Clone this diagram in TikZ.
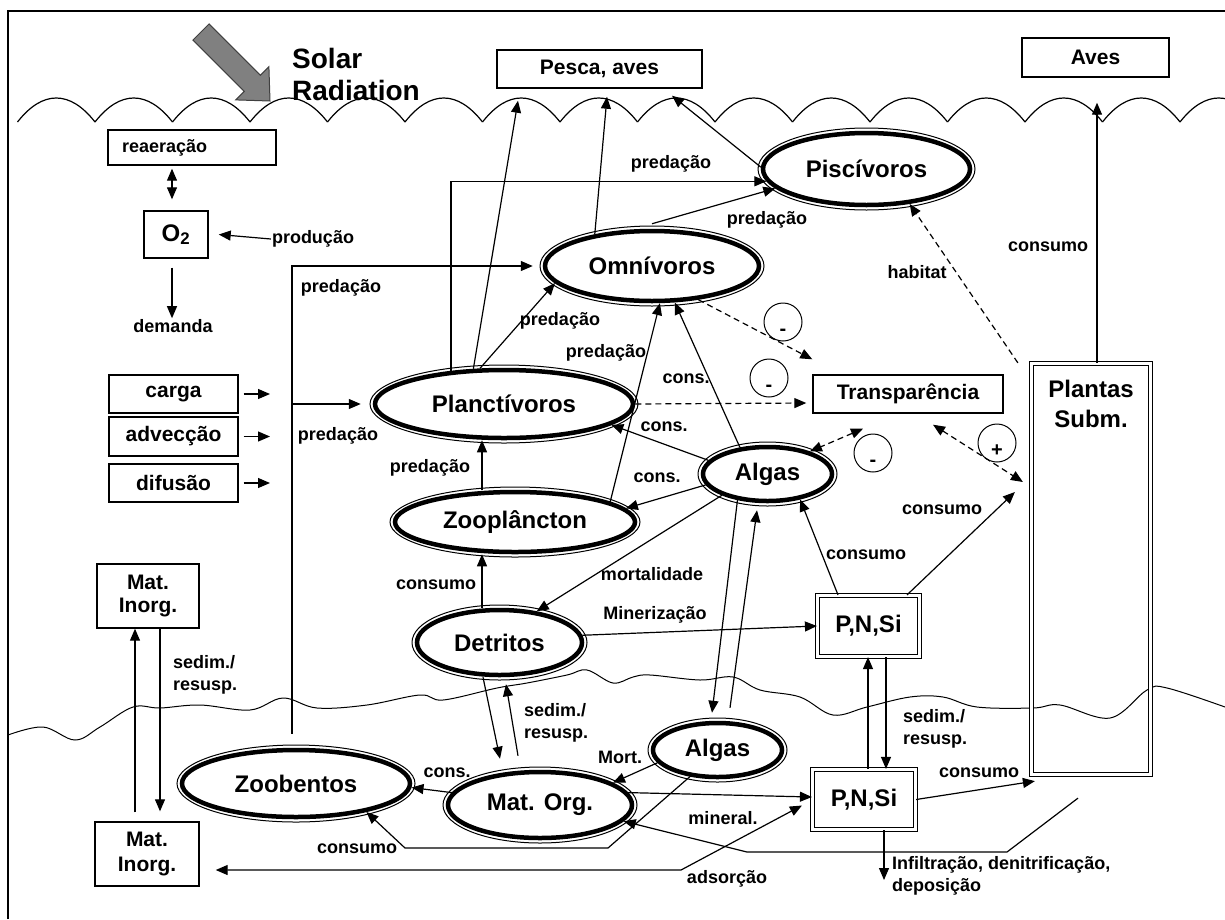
\documentclass[tikz,border=0pt]{standalone}
\usepackage{fontspec}
\setmainfont{Liberation Sans}
\usetikzlibrary{shapes.geometric,arrows.meta,calc}
\tikzset{
  lab/.style={font=\fontsize{18}{22}\selectfont\bfseries, inner sep=1pt},
  boxn/.style={draw, line width=1.4pt, font=\fontsize{21}{24}\selectfont\bfseries, inner sep=0pt},
  dbox/.style={draw, line width=1.2pt, double, double distance=2.4pt, font=\fontsize{24}{29}\selectfont\bfseries, inner sep=0pt},
  ell/.style={ellipse, draw, line width=4.5pt, fill=white, font=\fontsize{24}{28}\selectfont\bfseries, inner sep=0pt},
  outerell/.style={line width=1pt, fill=white},
  arr/.style={-{Triangle[length=12pt,width=10pt]}, line width=1.2pt},
  arrtwo/.style={{Triangle[length=12pt,width=10pt]}-{Triangle[length=12pt,width=10pt]}, line width=1.2pt},
  dashy/.style={dash pattern=on 6pt off 4pt},
  sign/.style={circle, draw, line width=1pt, minimum size=38pt, inner sep=0pt, text height=26pt, text depth=0pt, font=\fontsize{20}{20}\selectfont\bfseries},
  wave/.style={line width=1.2pt},
}
\newcommand\ecoNode[6]{%
  \draw[outerell] (#2,#3) ellipse [x radius=#4pt, y radius=#5pt];
  \node[ell, minimum width={2*#4pt-10pt}, minimum height={2*#5pt-10pt}] (#1) at (#2,#3) {#6};}
\begin{document}
\begin{tikzpicture}[x=1pt,y=-1pt]
\useasboundingbox (0,0) rectangle (1225,919);
% frame
\draw[line width=1.5pt] (8,919) -- (8,11) -- (1225,11);
% water surface
\foreach \k in {0,...,15} {
  \pgfmathsetmacro\xa{17.5+77.5*\k}
  \draw[wave] (\xa,122) .. controls (\xa+25,90) and (\xa+52.5,90) .. (\xa+77.5,122);
}
% sediment surface
\draw[wave, line width=1pt] plot[smooth, tension=0.6] coordinates {(8,735) (43,727) (75,740) (100,727) (133,707) (160,708) (200,705) (250,710) (283,698) (317,708) (367,705) (420,695) (443,700) (497,688) (527,683) (567,675) (587,670) (613,683) (633,677) (650,675) (700,680) (733,677) (760,690) (800,697) (833,715) (867,707) (910,697) (943,697) (977,707) (1033,708) (1060,705) (1110,718) (1147,690) (1167,688) (1225,707)};
% solar arrow
\draw[line width=1pt, draw=black!75, fill=black!50] (209.1,23.9) -- (260.4,75.2) -- (268.9,66.7) -- (270,101) -- (235.7,99.9) -- (244.2,91.4) -- (192.9,40.1) -- cycle;
\node[font=\fontsize{28}{32}\selectfont\bfseries, align=left, anchor=north west, inner sep=0pt] (solar) at (292,48) {Solar\\Radiation};

% boxes
\node[boxn, minimum width=205pt, minimum height=38pt] (pesca) at (599.5,69) {Pesca, aves};
\node[boxn, minimum width=147pt, minimum height=39pt] (aves) at (1095.5,57.5) {Aves};
\node[boxn, font=\fontsize{18}{22}\selectfont\bfseries, minimum height=35pt, text width=140pt, inner xsep=14pt, align=left] (reaer) at (192,147.5) {reaeração};
\node[boxn, font=\fontsize{24}{28}\selectfont\bfseries, minimum width=64pt, minimum height=47pt] (o2) at (176,234.5) {O\textsubscript{2}};
\node[lab] (prod) at (313,239) {produção};
\node[lab] (dem) at (173,326) {demanda};
\node[boxn, minimum width=129pt, minimum height=38pt] (carga) at (173.5,394) {carga};
\node[boxn, minimum width=129pt, minimum height=39pt] (adv) at (173.5,436.5) {advecção};
\node[boxn, minimum width=129pt, minimum height=38pt] (dif) at (173.5,483) {difusão};
\node[boxn, minimum width=102pt, minimum height=64pt, align=center, font=\fontsize{21}{23}\selectfont\bfseries] (mi1) at (148,596) {Mat.\\Inorg.};
\node[boxn, minimum width=104pt, minimum height=64pt, align=center, font=\fontsize{21}{25}\selectfont\bfseries] (mi2) at (147,854) {Mat.\\Inorg.};
\node[boxn, minimum width=190pt, minimum height=38pt] (transp) at (908,394) {Transparência};
\node[dbox, minimum width=102pt, minimum height=61pt] (pns1) at (868.5,626) {P,N,Si};
\node[dbox, minimum width=103pt, minimum height=60pt] (pns2) at (864,799.5) {P,N,Si};
\node[dbox, minimum width=119pt, minimum height=411pt, label={[font=\fontsize{24}{30}\selectfont\bfseries, align=center, anchor=north, inner sep=0pt, yshift=-17pt]north:Plantas\\Subm.}] (plant) at (1091,569) {};

% ellipses
\ecoNode{pisc}{866.5}{169}{108.5}{41}{Piscívoros}
\ecoNode{omni}{652}{266}{112}{40}{Omnívoros}
\ecoNode{planc}{504}{404}{134}{39}{Planctívoros}
\ecoNode{zoo}{515}{522}{125}{35}{Zooplâncton}
\ecoNode{alg1}{767.5}{474}{69.5}{32}{Algas}
\ecoNode{detr}{499.5}{642.5}{87.5}{37.5}{Detritos}
\ecoNode{morg}{540}{805}{97}{38}{Mat. Org.}
\ecoNode{alg2}{717.5}{750}{69.5}{32}{Algas}
\ecoNode{zoob}{296}{783.5}{119}{38.5}{Zoobentos}

% oxygen
\draw[arrtwo] ([xshift=-20pt,yshift=-3pt]reaer.south) -- ([xshift=-4pt,yshift=11pt]o2.north);
\draw[arr] (prod.west) -- ([xshift=10pt]o2.east);
\draw[arr] ([xshift=-4pt,yshift=-9pt]o2.south) -- ([xshift=-1pt]dem.north);

% loads
\coordinate (ca) at (270,394);
\coordinate (cb) at (270,436.5);
\coordinate (cc) at (270,483);
\draw[arr] ([xshift=5pt]carga.east) -- (ca);
\draw[arr] ([xshift=5pt]adv.east) -- (cb);
\draw[arr] ([xshift=5pt]dif.east) -- (cc);

% inorganic matter
\draw[arr] ([xshift=-12pt,yshift=9pt]mi2.north) -- ([xshift=-13pt]mi1.south);
\draw[arr] ([xshift=12pt]mi1.south) -- ([xshift=13pt,yshift=10pt]mi2.north);
\node[lab, align=left, anchor=west] (lsed1) at (172,674.5) {sedim./\\resusp.};

% zoobentos predation
\coordinate (zbtop) at ([xshift=-4pt,yshift=14pt]zoob.north);
\draw[arr] (zbtop) |- ([xshift=-10pt]omni.west);
\draw[arr] (zbtop |- planc.west) -- ([xshift=-12pt]planc.west);
\node[lab] (lp1) at (341,288) {predação};
\node[lab] (lp2) at (338,436) {predação};

% to pesca, aves
\draw[arr] (planc.131) -- ([xshift=-81.5pt,yshift=-12pt]pesca.south);
\draw[arr] (omni.151) -- ([xshift=7.5pt,yshift=-8pt]pesca.south);
\draw[arr] (pisc.179) -- ([xshift=72.5pt,yshift=-7pt]pesca.south);

% predation
\draw[arr] (planc.148) |- (pisc.187);
\node[lab] (lp3) at (671,164) {predação};
\draw[arr] ([yshift=5pt]omni.north) -- (pisc.192);
\node[lab] (lp4) at (767,220) {predação};
\draw[arr] (planc.124) -- (omni.190);
\node[lab] (lp5) at (560,321) {predação};
\draw[arr] (zoo.12) -- (omni.282);
\node[lab] (lp6) at (606,353) {predação};
\draw[arr] ([xshift=-33pt]zoo.north) -- ([xshift=-22pt]planc.south);
\node[lab] (lp7) at (430,468) {predação};
\draw[arr] ([xshift=-17.5pt]detr.north) -- ([xshift=-33pt]zoo.south);
\node[lab] (lc1) at (436,585) {consumo};

% algae consumption
\draw[arr] (alg1.136) -- (omni.302);
\node[lab] (lk1) at (686,379) {cons.};
\draw[arr] (alg1.167) -- (planc.349);
\node[lab] (lk2) at (664,427) {cons.};
\draw[arr] (alg1.190) -- (zoo.7);
\node[lab] (lk3) at (657,478) {cons.};
\draw[arr] (alg1.205) -- (detr.40);
\node[lab] (lmort) at (652,574) {mortalidade};

% nutrients
\draw[arr] (detr.5) -- (pns1.west);
\node[lab] (lmin) at (655,615) {Minerização};
\draw[arr] ([xshift=-30.5pt]pns1.north) -- (alg1.322);
\node[lab] (lc2) at (866,555) {consumo};
\draw[arr] ([xshift=38.5pt]pns1.north) -- ([xshift=-16pt,yshift=77pt]plant.west);
\node[lab] (lc3) at (942,510) {consumo};

% transparency
\draw[arrtwo, dashy] ([xshift=25pt,yshift=-11pt]transp.south) -- ([xshift=-8pt,yshift=87pt]plant.west);
\node[sign] (s1) at (997,443) {+};
\draw[arrtwo, dashy] ([xshift=-45pt,yshift=-15pt]transp.south) -- (alg1.28);
\node[sign] (s2) at (873,453) {-};
\draw[arr, dashy] (omni.324) -- ([yshift=15pt]transp.north west);
\node[sign] (s3) at (783,322) {-};
\draw[arr, dashy] (planc.east) -- ([xshift=-6pt,yshift=-9pt]transp.west);
\node[sign] (s4) at (769,378) {-};

% plants
\draw[arr, dashy] ([xshift=-13pt]plant.north west) -- (pisc.321);
\node[lab] (lhab) at (917,272) {habitat};
\draw[arr] ([xshift=6pt]plant.north) -- ([xshift=1.5pt,yshift=-25pt]aves.south);
\node[lab] (lc4) at (1048,247) {consumo};

% algae exchange
\draw[arr] (alg1.221) -- ([xshift=-5.5pt,yshift=8pt]alg2.north);
\draw[arr] ([xshift=12.5pt,yshift=13pt]alg2.north) -- ([xshift=-10.5pt,yshift=-7pt]alg1.south);

% detritus exchange
\draw[arr] ([xshift=-16.5pt]detr.south) -- ([xshift=-40pt,yshift=11pt]morg.north);
\draw[arr] ([xshift=-22pt,yshift=14pt]morg.north) -- ([xshift=6.5pt,yshift=-7pt]detr.south);
\node[lab, align=left, anchor=west] (lsed2) at (523,722.5) {sedim./\\resusp.};

% benthic
\draw[arr] (alg2.192) -- (morg.17);
\node[lab] (lmort2) at (620,757) {Mort.};
\draw[arr] (morg.172) -- (zoob.358);
\node[lab] (lk4) at (447,773) {cons.};
\draw[arr] (morg.8) -- ([yshift=2.5pt]pns2.west);
\node[lab] (lmineral) at (723,818) {mineral.};
\coordinate (b1) at (608,848);
\coordinate (b2) at (405,848);
\draw[arr] (alg2.224) -- (b1) -- (b2) -- (zoob.338);
\node[lab] (lc5) at (357,849) {consumo};
\coordinate (b3) at (681,870);
\draw[arrtwo] ([xshift=16pt,yshift=-16pt]mi2.east) -- (b3) -- ([xshift=-10pt,yshift=-6pt]pns2.west);
\node[lab] (lads) at (727,879) {adsorção};
\coordinate (b4) at (1007,852);
\coordinate (b5) at (747,852);
\draw[arr] ([xshift=-13pt,yshift=-23pt]plant.south) -- (b4) -- (b5) -- (morg.349);
\draw[arr] (pns2.east) -- ([xshift=4pt,yshift=-6pt]plant.south west);
\node[lab] (lc6) at (979,773) {consumo};
\coordinate (inf) at (884,880);
\draw[arr] ([xshift=20pt]pns2.south) -- (inf);
\node[lab, align=left, anchor=west] (linf) at (891,876) {Infiltração, denitrificação,\\deposição};
\draw[arr] ([xshift=4pt]pns2.north) -- ([xshift=-0.5pt]pns1.south);
\draw[arr] ([xshift=17.5pt]pns1.south) -- ([xshift=22pt]pns2.north);
\node[lab, align=left, anchor=west] (lsed3) at (902,729) {sedim./\\resusp.};
\end{tikzpicture}
\end{document}
